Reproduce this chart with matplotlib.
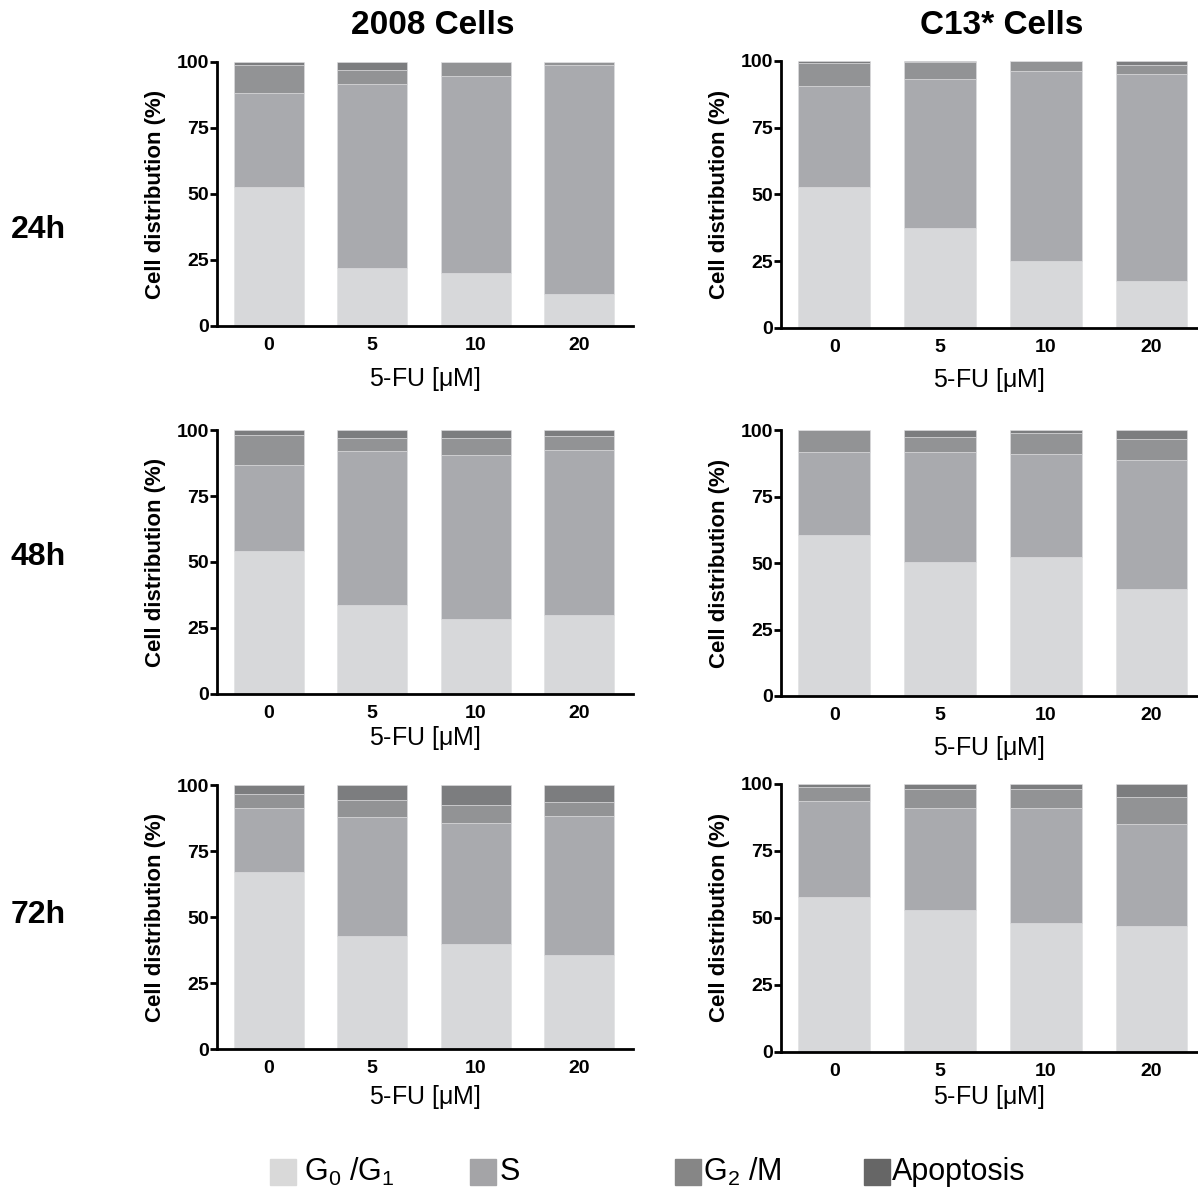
import matplotlib
matplotlib.use("Agg")
import matplotlib.pyplot as plt
from matplotlib.patches import Rectangle
import numpy as np

plt.rcParams['font.family'] = ['Liberation Sans', 'DejaVu Sans']
plt.rcParams['mathtext.fontset'] = 'custom'
plt.rcParams['mathtext.rm'] = 'Liberation Sans'
plt.rcParams['mathtext.it'] = 'Liberation Sans'
plt.rcParams['mathtext.default'] = 'regular'

# 5-FU doses and cell-cycle phases
doses = ['0', '5', '10', '20']
phases = ['G$_0$ /G$_1$', 'S', 'G$_2$ /M', 'Apoptosis']

# segment percentages per dose: G0/G1, S, G2/M, apoptosis
cells2008_24h = [[52.8, 35.3, 10.9, 1.0],
                 [21.9, 69.8, 5.1, 3.2],
                 [20.0, 74.7, 5.3, 0.0],
                 [12.1, 86.9, 1.0, 0.0]]
cells2008_48h = [[54.3, 32.4, 11.4, 1.9],
                 [33.5, 58.5, 5.1, 2.9],
                 [28.5, 62.0, 6.6, 2.9],
                 [30.0, 62.7, 5.3, 2.0]]
cells2008_72h = [[67.3, 24.0, 5.4, 3.3],
                 [43.1, 44.9, 6.6, 5.4],
                 [39.9, 45.7, 6.8, 7.6],
                 [35.6, 52.8, 5.4, 6.2]]
c13_24h = [[52.7, 37.9, 8.7, 0.7],
           [37.5, 55.5, 6.4, 0.6],
           [24.9, 71.1, 4.0, 0.0],
           [17.6, 77.4, 3.4, 1.6]]
c13_48h = [[60.5, 31.2, 8.3, 0.0],
           [50.6, 41.4, 5.5, 2.5],
           [52.2, 38.8, 7.9, 1.1],
           [40.3, 48.7, 7.7, 3.3]]
c13_72h = [[57.9, 35.9, 5.2, 1.0],
           [53.1, 37.8, 7.2, 1.9],
           [48.2, 42.7, 7.2, 1.9],
           [47.1, 38.0, 10.2, 4.7]]

col_titles = ['2008 Cells', 'C13* Cells']
row_titles = ['24h', '48h', '72h']
panels = [[cells2008_24h, c13_24h],
          [cells2008_48h, c13_48h],
          [cells2008_72h, c13_72h]]

bar_colors = ['#d7d8da', '#a9aaae', '#929395', '#7c7d7f']
legend_colors = ['#d9d9d9', '#a4a4a7', '#868686', '#666666']

W, H = 1198, 1195
fig = plt.figure(figsize=(W / 100, H / 100), dpi=100)

# axes boxes in pixels: left, right, top(100), bottom(0)
boxes = [[(217, 633, 62, 326), (781.5, 1197, 60.7, 328)],
         [(217, 633, 430.3, 693.7), (781.5, 1197, 430.3, 696)],
         [(217, 633, 785.3, 1049.3), (781.5, 1197, 784, 1051.7)]]
xlims = [(-0.5, 3.52), (-0.5, 3.43)]
# xlabel centre offset below axis (px)
xlabel_off = [[53, 52], [44, 52], [48, 45]]

for r in range(3):
    for c in range(2):
        l, rr, t, b = boxes[r][c]
        ax = fig.add_axes([l / W, 1 - b / H, (rr - l) / W, (b - t) / H])
        data = np.array(panels[r][c])
        x = np.arange(len(doses))
        bottom = np.zeros(len(doses))
        for k in range(len(phases)):
            ax.bar(x, data[:, k], 0.68, bottom=bottom, color=bar_colors[k],
                   edgecolor='#dfdfe1', linewidth=0.4)
            bottom += data[:, k]
        ax.set_xlim(*xlims[c])
        ax.set_ylim(0, 100)
        ax.set_yticks([0, 25, 50, 75, 100])
        ax.set_xticks(x)
        ax.set_xticklabels(doses)
        for s in ['top', 'right']:
            ax.spines[s].set_visible(False)
        for s in ['left', 'bottom']:
            ax.spines[s].set_linewidth(2)
        ax.tick_params(axis='y', length=5, width=2, pad=1, labelsize=14)
        ax.tick_params(axis='x', length=0, pad=8, labelsize=14)
        for lab in ax.get_xticklabels() + ax.get_yticklabels():
            lab.set_fontweight('bold')
        ax.set_ylabel('Cell distribution (%)', fontsize=16, fontweight='bold')
        ax.yaxis.set_label_coords(-62 / (rr - l), 0.5)
        ax.yaxis.label.set_va('center')
        ax.set_xlabel('5-FU [$\\mu$M]', fontsize=18)
        ax.xaxis.set_label_coords(0.5, -xlabel_off[r][c] / (b - t))
        ax.xaxis.label.set_va('center')

# column and row headers
fig.text(433 / W, 1 - 26 / H, col_titles[0], fontsize=24, fontweight='bold',
         ha='center', va='center')
fig.text(1002 / W, 1 - 26 / H, col_titles[1], fontsize=24, fontweight='bold',
         ha='center', va='center')
for r, ypx in enumerate([230, 557, 915]):
    fig.text(38 / W, 1 - ypx / H, row_titles[r], fontsize=23, fontweight='bold',
             ha='center', va='center')

# legend along the bottom
patch_x = [270, 470, 675, 864]
text_x = [304, 500, 703, 892]
leg_y = 1172
for k in range(len(phases)):
    fig.add_artist(Rectangle((patch_x[k] / W, 1 - (leg_y + 13) / H), 26 / W, 26 / H,
                             transform=fig.transFigure, color=legend_colors[k]))
    fig.text(text_x[k] / W, 1 - leg_y / H, phases[k], fontsize=22,
             ha='left', va='center')

fig.savefig('out.png', dpi=100)
